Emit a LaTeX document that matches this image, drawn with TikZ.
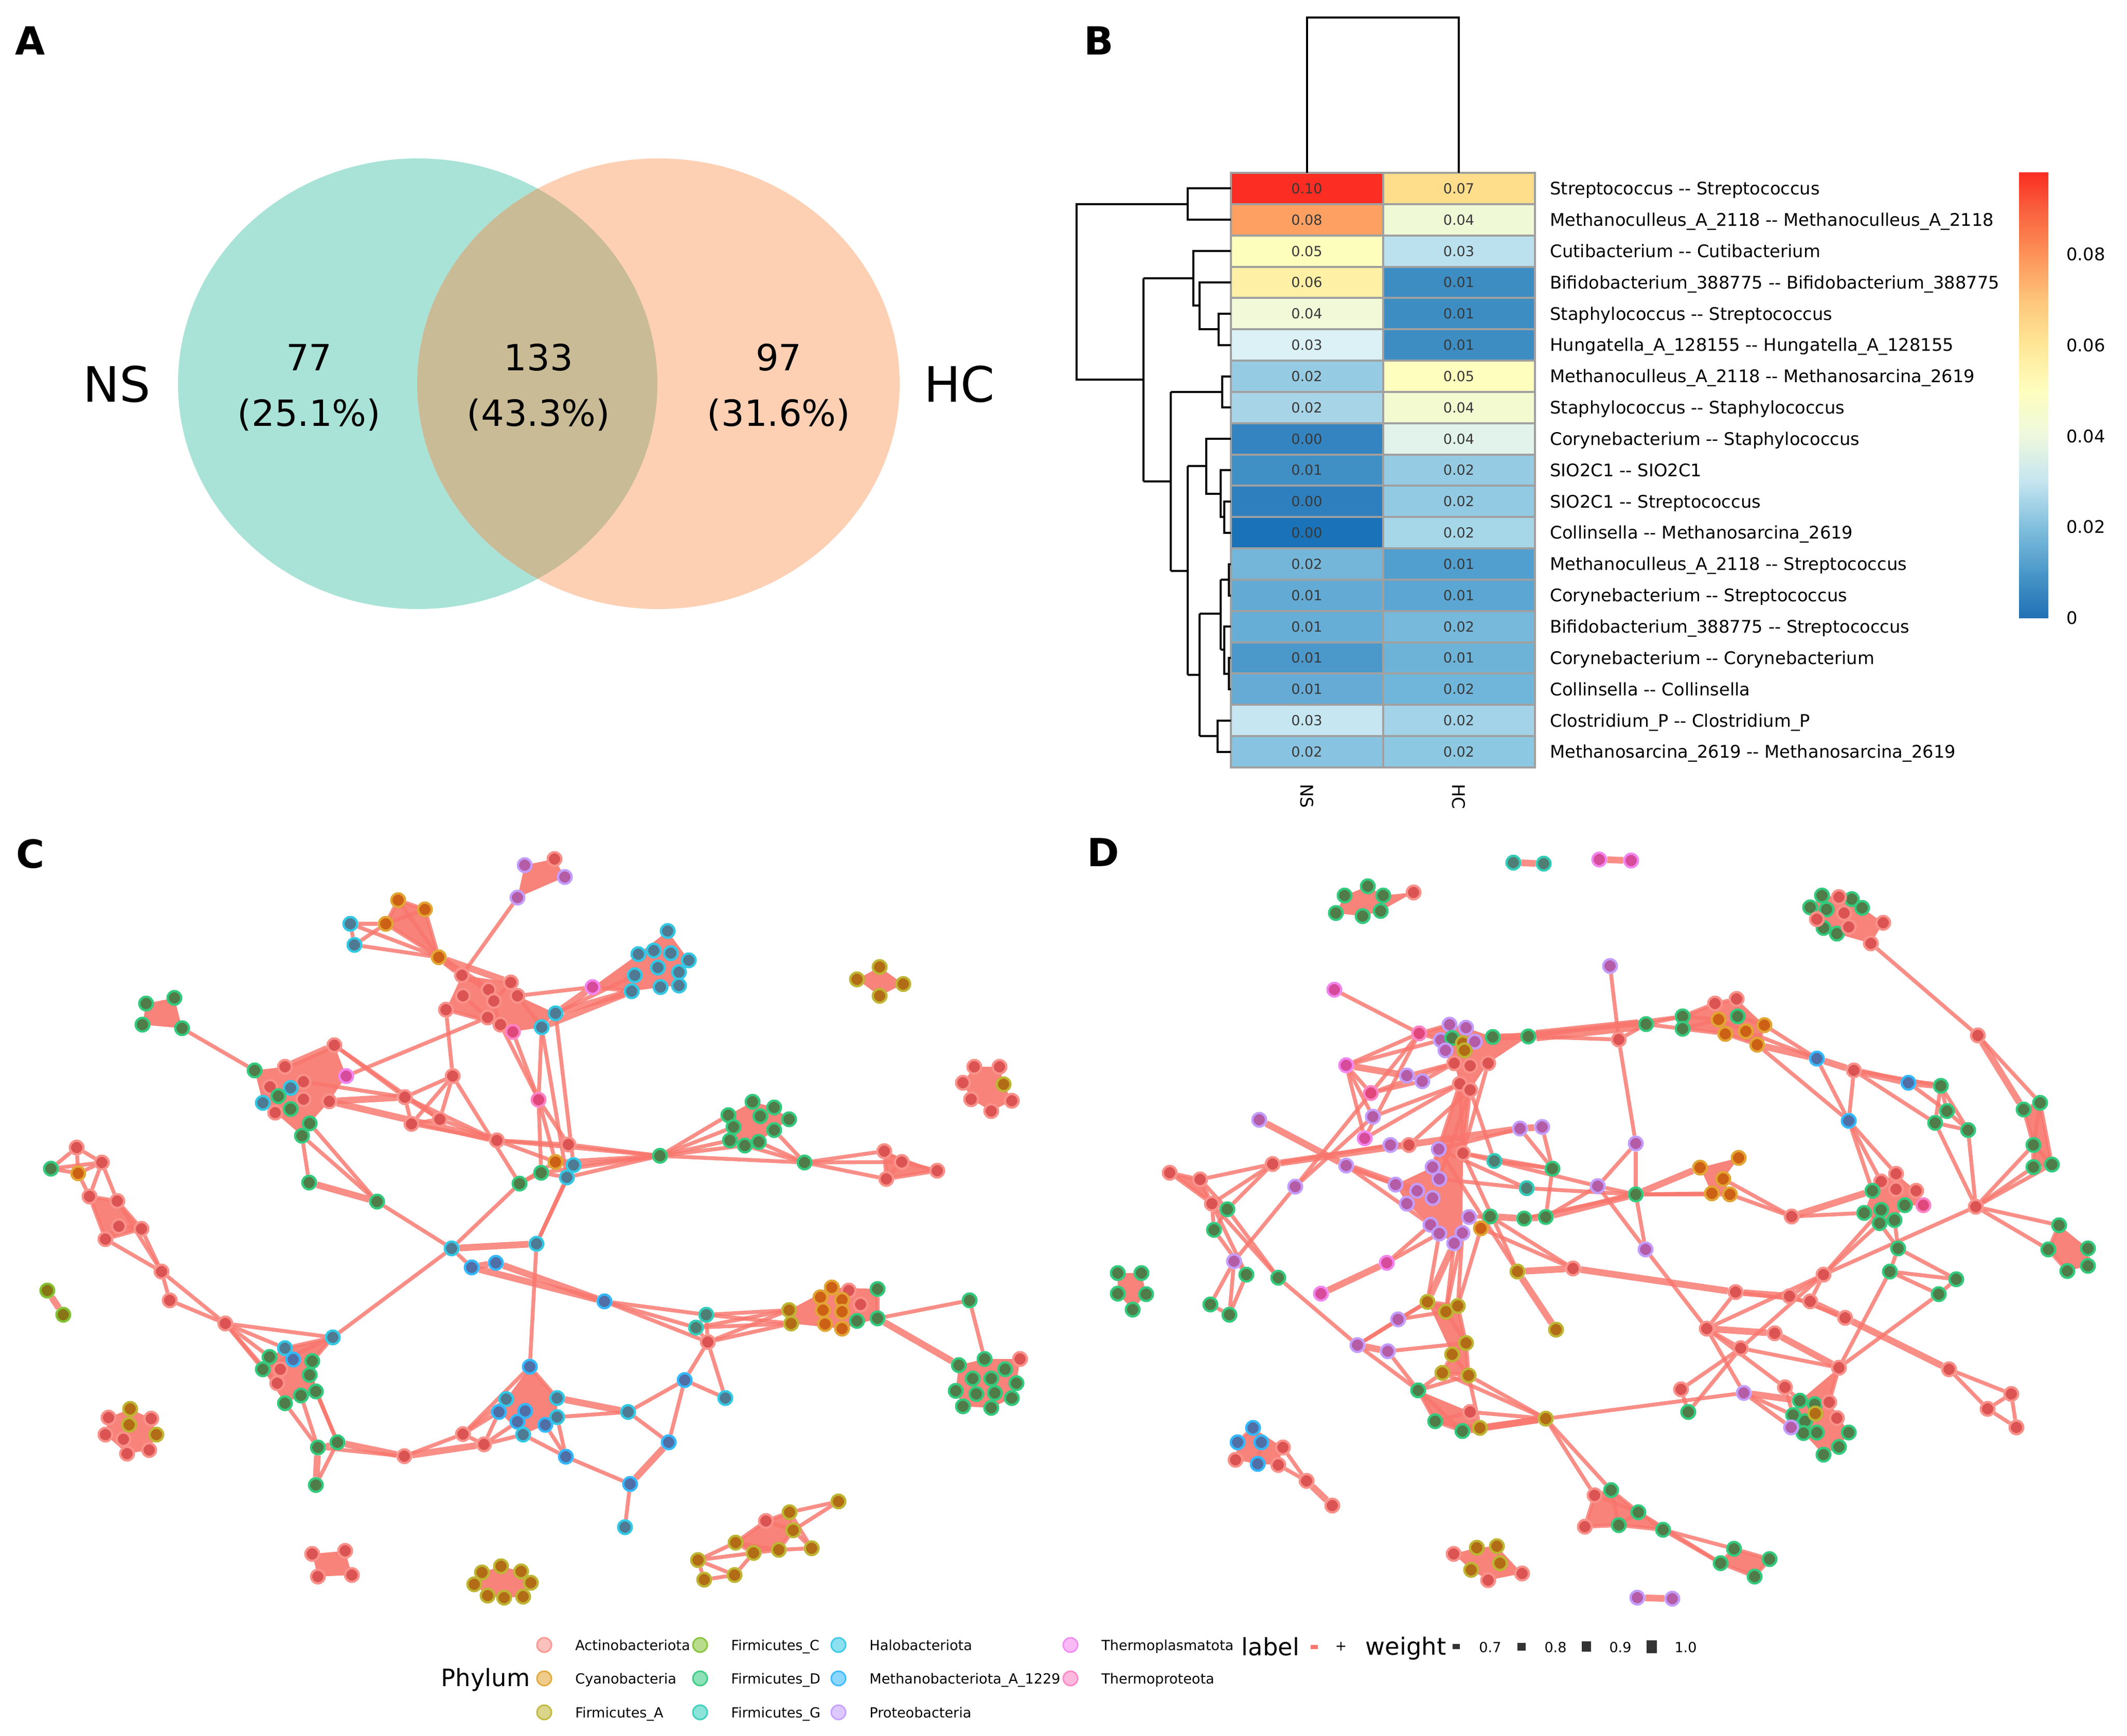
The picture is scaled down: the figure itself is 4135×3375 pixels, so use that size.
\documentclass[tikz,border=0pt]{standalone}
\usepackage{fontspec}
\newfontfamily\dv{DejaVu Sans}
\usetikzlibrary{backgrounds}
\definecolor{act}{HTML}{F8766D}
\definecolor{cya}{HTML}{DB8E00}
\definecolor{fa}{HTML}{AEA200}
\definecolor{fc}{HTML}{64B200}
\definecolor{fd}{HTML}{00BD5C}
\definecolor{fg}{HTML}{00C1A7}
\definecolor{hal}{HTML}{00BADE}
\definecolor{met}{HTML}{00A6FF}
\definecolor{pro}{HTML}{B385FF}
\definecolor{tpl}{HTML}{EF67EB}
\definecolor{tpr}{HTML}{FF63B6}
\definecolor{nb}{HTML}{B82530}
\definecolor{edgec}{HTML}{F8766D}
\definecolor{vl}{HTML}{A9E3D8}
\definecolor{vr}{HTML}{FDD0B4}
\definecolor{vo}{HTML}{C9BB96}
\definecolor{hg}{HTML}{A0A0A0}
\tikzset{
 nd/.style={circle, inner sep=0pt, minimum size=0.265cm, line width=0.045cm, draw=#1!80!white, fill=#1!57!nb},
 ed/.style={draw=edgec, draw opacity=0.82, line width=0.075cm},
 edt/.style={draw=edgec, draw opacity=0.82, line width=0.13cm},
 edv/.style={draw=edgec, draw opacity=0.85, line width=0.22cm},
 cl/.style={fill=edgec, fill opacity=0.9},
 lg/.style={circle, inner sep=0pt, minimum size=0.28cm, line width=0.03cm, draw=#1!75!white, fill=#1!45!white},
 lt/.style={anchor=base west, font=\dv\fontsize{7.7}{9}\selectfont},
 panel/.style={font=\dv\bfseries\fontsize{21.4}{25}\selectfont},
 dend/.style={line width=0.04cm, black},
 hgl/.style={draw=hg, line width=0.04cm},
 lab/.style={anchor=base west, font=\dv\fontsize{9.6}{11}\selectfont},
}
\begin{document}
\begin{tikzpicture}[x=0.01cm,y=-0.01cm]
\useasboundingbox (0,0) rectangle (4135,3375);
\begin{scope}[on background layer]\fill[white] (0,0) rectangle (4135,3375);\end{scope}
% panel letters
\node[panel] (LA) at (59,79) {A};
\node[panel] (LB) at (2136,79) {B};
\node[panel] (LC) at (59,1660) {C};
\node[panel] (LD) at (2145,1657) {D};
% ---------- Venn
\fill[vl] (812,746) ellipse [x radius=466, y radius=438];
\fill[vr] (1280,746) ellipse [x radius=469, y radius=438];
\begin{scope}
\clip (812,746) ellipse [x radius=466, y radius=438];
\fill[vo] (1280,746) ellipse [x radius=469, y radius=438];
\end{scope}
\begin{scope}[every node/.style={anchor=base, font=\dv\fontsize{20}{24}\selectfont}]
\node (n77) at (601,720) {77};
\node (p77) at (601,828) {(25.1\%)};
\node (n133) at (1047,720) {133};
\node (p133) at (1047,828) {(43.3\%)};
\node (n97) at (1514,720) {97};
\node (p97) at (1514,828) {(31.6\%)};
\end{scope}
\node[anchor=base, font=\dv\fontsize{27}{32}\selectfont] (vns) at (227,781) {NS};
\node[anchor=base, font=\dv\fontsize{27}{32}\selectfont] (vhc) at (1865,781) {HC};
% ---------- Heatmap
\foreach \i/\va/\cA/\vb/\cB/\lb in {
1/0.10/FC2D22/0.07/FEDD8B/Streptococcus -- Streptococcus,
2/0.08/FDA062/0.04/F0F9D6/Methanoculleus\_A\_2118 -- Methanoculleus\_A\_2118,
3/0.05/FEFEBC/0.03/BBE1EE/Cutibacterium -- Cutibacterium,
4/0.06/FEF0A5/0.01/3D8DC3/Bifidobacterium\_388775 -- Bifidobacterium\_388775,
5/0.04/F1F9D9/0.01/3D8DC3/Staphylococcus -- Streptococcus,
6/0.03/DBF1F6/0.01/3D8DC3/Hungatella\_A\_128155 -- Hungatella\_A\_128155,
7/0.02/96CCE3/0.05/FEFEBE/Methanoculleus\_A\_2118 -- Methanosarcina\_2619,
8/0.02/A7D5E7/0.04/F3FAD0/Staphylococcus -- Staphylococcus,
9/0.00/3384C0/0.04/E1F3EA/Corynebacterium -- Staphylococcus,
10/0.01/4090C6/0.02/96CCE3/SIO2C1 -- SIO2C1,
11/0.00/2D7FBE/0.02/92CAE3/SIO2C1 -- Streptococcus,
12/0.00/1A73B8/0.02/A6D7E9/Collinsella -- Methanosarcina\_2619,
13/0.02/74B6D9/0.01/519FCF/Methanoculleus\_A\_2118 -- Streptococcus,
14/0.01/63ABD4/0.01/5BA6D2/Corynebacterium -- Streptococcus,
15/0.01/67AED6/0.02/76B9DB/Bifidobacterium\_388775 -- Streptococcus,
16/0.01/4B98CB/0.01/6DB3D8/Corynebacterium -- Corynebacterium,
17/0.01/65ABD5/0.02/70B6DA/Collinsella -- Collinsella,
18/0.03/C6E7F1/0.02/A2D3E8/Clostridium\_P -- Clostridium\_P,
19/0.02/88C4E1/0.02/8DC8E2/Methanosarcina\_2619 -- Methanosarcina\_2619}{
 \pgfmathsetmacro\yt{336+60.84*(\i-1)}
 \pgfmathsetmacro\yb{336+60.84*\i}
 \pgfmathsetmacro\yc{336+60.84*(\i-0.5)}
 \definecolor{hA}{HTML}{\cA}\definecolor{hB}{HTML}{\cB}
 \fill[hA] (2393,\yt) rectangle (2688.5,\yb);
 \fill[hB] (2688.5,\yt) rectangle (2984,\yb);
 \node[anchor=base, font=\dv\fontsize{7.7}{9}\selectfont, text=black!78] (va\i) at (2540.5,\yc+9.9) {\va};
 \node[anchor=base, font=\dv\fontsize{7.7}{9}\selectfont, text=black!78] (vb\i) at (2836,\yc+9.9) {\vb};
 \node[lab] (rl\i) at (3001,\yc+12.3) {\lb};
}
\draw[hgl] (2393,336) rectangle (2984,1492);
\draw[hgl] (2688.5,336) -- (2688.5,1492);
\foreach \i in {1,...,18} \draw[hgl] (2393,{336+60.84*\i}) -- (2984,{336+60.84*\i});
\node[rotate=-90, anchor=west, font=\dv\fontsize{9.6}{11}\selectfont] (cns) at (2540.5,1512) {NS};
\node[rotate=-90, anchor=west, font=\dv\fontsize{9.6}{11}\selectfont] (chc) at (2836,1512) {HC};
% column dendrogram
\draw[dend] (2540.5,336) -- (2540.5,34) -- (2836,34) -- (2836,336);
% row dendrogram
\draw[dend] (2393,366.4) -- (2309,366.4) -- (2309,427.3) -- (2393,427.3);
\draw[dend] (2309,396.9) -- (2093,396.9) -- (2093,738) -- (2223,738);
\draw[dend] (2223,541) -- (2223,936);
\draw[dend] (2223,541) -- (2320,541);
\draw[dend] (2393,488.1) -- (2320,488.1) -- (2320,594) -- (2332,594);
\draw[dend] (2393,549) -- (2332,549) -- (2332,640.2) -- (2369,640.2);
\draw[dend] (2393,609.8) -- (2369,609.8) -- (2369,670.7) -- (2393,670.7);
\draw[dend] (2223,936) -- (2276,936);
\draw[dend] (2276,761.9) -- (2276,1110);
\draw[dend] (2393,731.5) -- (2376,731.5) -- (2376,792.4) -- (2393,792.4);
\draw[dend] (2276,761.9) -- (2376,761.9);
\draw[dend] (2276,1110) -- (2309,1110);
\draw[dend] (2309,906.3) -- (2309,1312);
\draw[dend] (2309,906.3) -- (2345,906.3);
\draw[dend] (2393,853.2) -- (2345,853.2) -- (2345,959.5) -- (2373,959.5);
\draw[dend] (2393,914.1) -- (2373,914.1) -- (2373,1005.4) -- (2380,1005.4);
\draw[dend] (2393,974.9) -- (2380,974.9) -- (2380,1035.8) -- (2393,1035.8);
\draw[dend] (2309,1312) -- (2332,1312);
\draw[dend] (2332,1193) -- (2332,1431.3);
\draw[dend] (2332,1193) -- (2373,1193);
\draw[dend] (2373,1127) -- (2373,1263);
\draw[dend] (2373,1127) -- (2389,1127);
\draw[dend] (2393,1096.6) -- (2389,1096.6) -- (2389,1157.5) -- (2393,1157.5);
\draw[dend] (2373,1263) -- (2380,1263);
\draw[dend] (2393,1218.3) -- (2380,1218.3) -- (2380,1309.6) -- (2389,1309.6);
\draw[dend] (2393,1279.2) -- (2389,1279.2) -- (2389,1340) -- (2393,1340);
\draw[dend] (2332,1431.3) -- (2367,1431.3);
\draw[dend] (2393,1400.9) -- (2367,1400.9) -- (2367,1461.7) -- (2393,1461.7);
% colorbar
\foreach \ya/\yb/\cA/\cB in {1201/1112.7/2070B4/4A98C9,1112.7/1024.4/4A98C9/82BFDD,1024.4/936.1/82BFDD/C5E5F0,936.1/847.8/C5E5F0/EEF8DE,847.8/759.5/EEF8DE/FEFEBE,759.5/671.2/FEFEBE/FEE797,671.2/582.9/FEE797/FDC57A,582.9/494.6/FDC57A/FD9258,494.6/406.3/FD9258/F95F3D,406.3/336/F95F3D/FB2D22}{
 \definecolor{sA}{HTML}{\cA}\definecolor{sB}{HTML}{\cB}
 \shade[bottom color=sA, top color=sB] (3925,\ya+0.6) rectangle (3982,\yb-0.6);
}
\foreach \v/\yy in {0.08/494.6,0.06/671.2,0.04/847.8,0.02/1024.4,0/1201}
 \node[lab] (cb\v) at (4005,\yy+12.3) {\v};
% ---------- Network C nodes
\foreach \nn/\xx/\yy/\col in {
cp1/1020/1682/pro,cp2/1078/1670/act,cp3/1098/1705/pro,cp4/1006/1745/pro,
co1/774/1750/cya,co2/826/1768/cya,co3/750/1796/cya,co4/681/1796/hal,co5/689/1837/hal,co6/853/1861/cya,
cr1/898/1896/act,cr2/993/1910/act,cr3/950/1924/act,cr4/900/1936/act,cr5/1006/1936/act,cr6/960/1946/act,cr7/867/1963/act,cr8/948/1978/act,cr9/973/1992/act,cr10/997/2006/tpr,cr11/1080/1970/hal,cr12/1053/1997/hal,
ch1/1298/1810/hal,ch2/1241/1855/hal,ch3/1271/1848/hal,ch4/1304/1853/hal,ch5/1339/1867/hal,ch6/1279/1881/hal,ch7/1234/1896/hal,ch8/1320/1890/hal,ch9/1228/1927/hal,ch10/1284/1919/hal,ch11/1320/1916/hal,ch12/1152/1919/tpl,
ca1/1710/1880/fa,ca2/1666/1904/fa,ca3/1756/1913/fa,ca4/1710/1936/fa,
cq1/1894/2074/act,cq2/1943/2074/act,cq3/1872/2105/act,cq4/1951/2108/fa,cq5/1888/2137/act,cq6/1967/2140/act,cq7/1927/2160/act,
cg1/284/1951/fd,cg2/339/1940/fd,cg3/277/1992/fd,cg4/354/1999/fd,
cl1/495/2081/fd,cl2/554/2074/act,cl3/650/2032/act,cl4/673/2092/tpl,cl5/590/2103/act,cl6/525/2113/act,cl7/565/2115/hal,cl8/541/2131/fd,cl9/590/2137/act,cl10/511/2144/hal,cl11/565/2156/fd,cl12/640/2141/act,cl13/535/2163/act,cl14/602/2184/fd,cl15/587/2208/fd,
cm1/787/2133/act,cm2/880/2092/act,cm3/800/2185/act,cm4/855/2176/act,cm5/966/2217/act,cm6/1105/2225/act,cm7/1047/2138/tpr,
cx1/1080/2259/cya,cx2/1115/2265/hal,cx3/1052/2280/fd,cx4/1102/2289/hal,cx5/1010/2301/fd,
cgh/1283/2247/fd,
cgr1/1463/2142/fd,cgr2/1505/2153/fd,cgr3/1416/2168/fd,cgr4/1478/2170/fd,cgr5/1534/2176/fd,cgr6/1426/2191/fd,cgr7/1505/2197/fd,cgr8/1419/2217/fd,cgr9/1475/2220/fd,cgr10/1448/2227/fd,
cg5/1564/2260/fd,
ct1/1719/2238/act,ct2/1753/2259/act,ct3/1822/2276/act,ct4/1723/2292/act,
cc1/149/2231/act,cc2/99/2272/fd,cc3/152/2281/cya,cc4/198/2260/act,cc5/174/2326/act,cc6/228/2335/act,cc7/231/2384/act,cc8/275/2389/act,cc9/205/2409/act,cc10/314/2472/act,cc11/330/2528/act,cc12/438/2573/act,
cf1/92/2509/fc,cf2/123/2556/fc,
cgm1/601/2299/fd,cgm2/733/2336/fd,
cb1/878/2427/hal,cb2/1043/2418/hal,cb3/917/2464/met,cb4/964/2455/met,
c2a/647/2600/hal,c2b/554/2621/hal,c2c/524/2638/fd,c2d/570/2643/met,c2e/607/2646/fd,c2f/511/2662/fd,c2g/545/2662/act,c2h/602/2673/fd,c2i/539/2689/act,c2j/614/2705/fd,c2k/585/2713/fd,c2l/554/2728/fd,
cgl1/656/2804/fd,cgl2/618/2814/fd,cgl3/614/2887/fd,
cra/786/2831/act,crb/900/2788/act,crc/941/2808/act,
cbc1/1030/2657/met,cbc2/984/2720/hal,cbc3/1083/2718/hal,cbc4/970/2745/met,cbc5/1021/2743/met,cbc6/1083/2755/hal,cbc7/1006/2764/met,cbc8/1060/2770/met,cbc9/1017/2789/hal,cbc10/1100/2832/met,
cbh/1221/2745/hal,cbm/1331/2683/met,cbp/1300/2804/met,cbk/1225/2885/met,cbz/1215/2969/hal,cbq/1410/2718/hal,cbx/1175/2530/met,
cga/1373/2556/fg,cgb/1353/2581/fg,crt/1376/2609/act,
coa/1534/2547/fa,cob/1538/2573/fa,coc/1617/2503/cya,cod/1595/2522/cya,coe/1650/2509/act,cof/1637/2527/cya,cog/1673/2536/act,coh/1600/2547/cya,coi/1637/2550/cya,coj/1604/2574/cya,cok/1637/2583/cya,col/1706/2506/fd,com/1706/2563/fd,con/1666/2568/fd,
cgx/1885/2528/fd,
cgq1/1864/2654/fd,cgq2/1914/2642/fd,cgq3/1954/2662/fd,cgq4/1891/2680/fd,cgq5/1927/2680/fd,cgq6/1976/2689/fd,cgq7/1858/2704/fd,cgq8/1898/2710/fd,cgq9/1934/2708/fd,cgq10/1967/2718/fd,cgq11/1872/2734/fd,cgq12/1927/2737/fd,cgq13/1983/2642/act,
chx1/253/2739/fa,chx2/211/2756/act,chx3/294/2758/act,chx4/251/2770/fa,chx5/304/2789/fa,chx6/205/2789/act,chx7/240/2798/act,chx8/290/2819/act,chx9/247/2826/act,
csq1/607/3021/act,csq2/671/3015/act,csq3/618/3065/act,csq4/684/3062/act,
cor1/974/3045/fa,cor2/937/3057/fa,cor3/1013/3055/fa,cor4/922/3080/fa,cor5/1032/3077/fa,cor6/948/3102/fa,cor7/980/3106/fa,cor8/1017/3104/fa,
cz1/1630/2919/fa,cz2/1535/2940/fa,cz3/1489/2957/act,cz4/1542/2975/fa,cz5/1430/2999/fa,cz6/1578/3010/fa,cz7/1465/3019/fa,cz8/1514/3013/fa,cz9/1357/3033/fa,cz10/1428/3062/fa,cz11/1369/3071/fa}
 \node[nd=\col] (\nn) at (\xx,\yy) {};
% ---------- Network D nodes
\foreach \nn/\xx/\yy/\col in {
dt1/2942/1677/fg,dt2/3001/1679/fg,dm1/3109/1671/tpl,dm2/3171/1673/tpl,
dga1/2659/1723/fd,dga2/2614/1741/fd,dga3/2689/1741/fd,dga4/2597/1775/fd,dga5/2649/1781/fd,dga6/2684/1771/fd,dga7/2748/1735/act,
dgb1/3542/1741/fd,dgb2/3600/1748/fd,dgb3/3519/1764/fd,dgb4/3551/1768/fd,dgb5/3620/1765/fd,dgb6/3545/1804/fd,dgb7/3571/1815/fd,drb1/3575/1744/act,drb2/3532/1787/act,drb3/3585/1775/act,drb4/3594/1802/act,drb5/3661/1794/act,drb6/3637/1834/act,
dp0/3130/1878/pro,dr2/3147/2021/act,dm3/2594/1924/tpl,dk1/2759/2009/tpr,
dc1/2818/1992/pro,dc2/2850/1998/pro,dc3/2801/2022/pro,dc4/2823/2018/fd,dc5/2844/2028/fa,dc6/2867/2025/pro,dc7/2810/2042/pro,dc8/2847/2042/fa,dc9/2902/2016/fd,dc10/2971/2015/fd,dc11/2827/2067/act,dc12/2858/2072/act,dc13/2893/2067/act,dc14/2838/2107/act,dc15/2858/2119/act,
dh1/3200/1991/fd,dh2/3271/1976/fd,dh3/3271/2000/fd,dr3/3334/1951/act,dr4/3376/1942/act,do1/3341/1982/cya,do2/3354/2010/cya,do3/3394/2005/cya,do4/3416/2031/cya,dh4/3378/1976/fd,do5/3430/1993/cya,
db1/3532/2058/met,dr5/3604/2081/act,db2/3710/2105/met,dg1/3773/2111/fd,dg2/3785/2160/fd,dg3/3762/2183/fd,dg4/3826/2197/fd,db3/3594/2179/met,
dr1/3845/2013/act,dg5/3934/2157/fd,dg6/3966/2144/fd,dg7/3953/2226/fd,dg8/3953/2269/fd,dg9/3989/2264/fd,dr6/3841/2346/act,dg10/4003/2382/fd,dg11/3982/2429/fd,dg12/4059/2427/fd,dg13/4019/2471/fd,dg14/4059/2461/fd,
drc1/3686/2282/act,drc2/3657/2297/act,drc3/3725/2315/act,drc4/3686/2312/act,dgc1/3640/2315/fd,dgc2/3703/2343/fd,dgc3/3624/2358/fd,dgc4/3657/2352/fd,dgc5/3683/2372/fd,dgc6/3654/2378/fd,dkc/3739/2343/tpr,
dg15/3690/2427/fd,dg16/3674/2472/fd,dg17/3803/2487/fd,
do6/3305/2270/cya,do7/3380/2251/cya,do8/3350/2292/cya,do9/3328/2320/cya,do10/3363/2322/cya,dg18/3180/2322/fd,drx/3483/2365/act,
dp1/3180/2223/pro,dp2/3106/2306/pro,dp3/3199/2429/pro,
dt3/2905/2257/fg,dt4/2968/2310/fg,dg19/3018/2272/fd,dpa/2955/2194/pro,dpb/2998/2191/pro,
dk2/2617/2071/tpl,dk3/2665/2125/tpr,dk4/2653/2213/tpl,
dp4/2735/2091/pro,dp5/2765/2102/pro,dp6/2669/2171/pro,dp7/2448/2177/pro,dp8/2703/2226/pro,dr7/2739/2226/act,dp9/2797/2234/pro,dr8/2844/2242/act,dp10/2617/2266/pro,dr9/2474/2263/act,dr10/2274/2280/act,dr11/2333/2293/act,dp11/2518/2307/pro,dr12/2356/2340/act,dg20/2386/2351/fd,dg21/2360/2391/fd,
dp12/2785/2269/pro,dp13/2798/2292/pro,dp14/2713/2303/pro,dp15/2755/2315/pro,dp16/2735/2340/pro,dp17/2785/2329/pro,
dg22/2897/2365/fd,dg23/2963/2369/fd,dg24/3005/2366/fd,dp18/2856/2366/pro,do11/2879/2388/cya,dp19/2781/2381/pro,dp20/2798/2398/pro,dp21/2843/2397/pro,dp22/2827/2417/pro,
dk5/2696/2455/tpl,da1/2950/2472/fa,dr13/3058/2466/act,dp23/2399/2452/pro,dg25/2423/2478/fd,dg26/2485/2484/fd,
dgp1/2173/2475/fd,dgp2/2219/2475/fd,dgp3/2173/2515/fd,dgp4/2228/2516/fd,dgp5/2202/2546/fd,
dg27/2353/2536/fd,dg28/2390/2556/fd,dk6/2568/2515/tpl,
dp24/2639/2615/pro,dp25/2698/2627/pro,dp26/2718/2565/pro,
da2/2775/2531/fa,da3/2811/2550/fa,da4/2834/2539/fa,da5/2850/2611/fa,da6/2823/2633/fa,da7/2804/2669/fa,da8/2855/2674/fa,
dg29/2757/2703/fd,dg30/2790/2763/fd,dg31/2843/2782/fd,da9/2877/2776/fa,dr14/2858/2745/act,da10/3005/2758/fa,da11/3025/2585/fa,
dp27/3390/2708/pro,dg32/3282/2745/fd,dr15/3268/2701/act,
drm1/3374/2512/act,drm2/3318/2583/act,dr16/3479/2520/act,dr17/3519/2530/act,dr18/3545/2478/act,dr19/3587/2562/act,dr20/3450/2592/act,dr21/3384/2621/act,dr22/3575/2659/act,dr23/3470/2697/act,
dgq1/3499/2723/fd,dgq2/3528/2730/fd,dgq3/3486/2751/fd,dgq4/3509/2763/fd,dgq5/3506/2786/fd,dgq6/3532/2785/fd,dgq7/3594/2785/fd,dgq8/3575/2813/fd,dgq9/3545/2828/fd,daq/3529/2748/fa,drq1/3556/2726/act,drq2/3571/2757/act,dpq/3482/2775/pro,
dg33/3769/2516/fd,dr24/3789/2662/act,dr25/3910/2710/act,dr26/3864/2739/act,dr27/3920/2775/act,
dbl1/2436/2776/met,dbl2/2406/2804/met,dbl3/2452/2804/met,dbl4/2445/2846/met,drl1/2494/2814/act,drl2/2402/2838/act,drl3/2485/2848/act,drl4/2540/2879/act,drl5/2590/2927/act,
drc5/3100/2907/act,dgc7/3132/2897/fd,dgc8/3185/2940/fd,drc6/3081/2968/act,dgc9/3147/2965/fd,dgc10/3233/2974/fd,dgc11/3371/3011/fd,dgc12/3345/3039/fd,dgc13/3440/3031/fd,dgc14/3411/3065/fd,
drb7/2826/3021/act,dab1/2871/3009/fa,dab2/2910/3006/fa,dab3/2916/3039/fa,dab4/2860/3052/fa,drb8/2959/3059/act,drb9/2893/3072/act,
dpp1/3183/3106/pro,dpp2/3251/3108/pro}
 \node[nd=\col] (\nn) at (\xx,\yy) {};
% ---------- edges and cluster fills (behind nodes)
\begin{scope}[on background layer]
% C fills
\fill[cl] (cp1.center)--(cp2.center)--(cp3.center)--(cp4.center)--cycle;
\fill[cl] (co1.center)--(co2.center)--(co6.center)--(co3.center)--cycle;
\fill[cl] (cr1.center)--(cr2.center)--(cr5.center)--(cr11.center)--(cr12.center)--(cr10.center)--(cr9.center)--(cr7.center)--cycle;
\fill[cl] (ch1.center)--(ch5.center)--(ch11.center)--(ch10.center)--(ch9.center)--(ch12.center)--(ch2.center)--cycle;
\fill[cl] (ca1.center)--(ca3.center)--(ca4.center)--(ca2.center)--cycle;
\fill[cl] (cq1.center)--(cq2.center)--(cq4.center)--(cq6.center)--(cq7.center)--(cq5.center)--(cq3.center)--cycle;
\fill[cl] (cg1.center)--(cg2.center)--(cg4.center)--(cg3.center)--cycle;
\fill[cl] (cl1.center)--(cl2.center)--(cl3.center)--(cl4.center)--(cl12.center)--(cl14.center)--(cl15.center)--(cl13.center)--(cl10.center)--cycle;
\fill[cl] (cgr1.center)--(cgr2.center)--(cgr5.center)--(cgr7.center)--(cgr9.center)--(cgr10.center)--(cgr8.center)--(cgr3.center)--cycle;
\fill[cl] (ct1.center)--(ct3.center)--(ct4.center)--cycle;
\fill[cl] (cc5.center)--(cc6.center)--(cc8.center)--(cc9.center)--cycle;
\fill[cl] (c2b.center)--(c2a.center)--(c2e.center)--(c2j.center)--(c2k.center)--(c2l.center)--(c2f.center)--(c2c.center)--cycle;
\fill[cl] (cbc1.center)--(cbc3.center)--(cbc6.center)--(cbc8.center)--(cbc9.center)--(cbc4.center)--(cbc2.center)--cycle;
\fill[cl] (coa.center)--(coc.center)--(col.center)--(com.center)--(cok.center)--(cob.center)--cycle;
\fill[cl] (cgq1.center)--(cgq2.center)--(cgq13.center)--(cgq6.center)--(cgq10.center)--(cgq12.center)--(cgq11.center)--(cgq7.center)--cycle;
\fill[cl] (chx1.center)--(chx3.center)--(chx5.center)--(chx8.center)--(chx9.center)--(chx6.center)--(chx2.center)--cycle;
\fill[cl] (csq1.center)--(csq2.center)--(csq4.center)--(csq3.center)--cycle;
\fill[cl] (cor1.center)--(cor3.center)--(cor5.center)--(cor8.center)--(cor7.center)--(cor6.center)--(cor4.center)--(cor2.center)--cycle;
\fill[cl] (cz3.center)--(cz2.center)--(cz4.center)--(cz8.center)--(cz7.center)--(cz5.center)--cycle;
% D fills
\fill[cl] (dga1.center)--(dga3.center)--(dga7.center)--(dga6.center)--(dga5.center)--(dga4.center)--(dga2.center)--cycle;
\fill[cl] (dgb1.center)--(drb1.center)--(dgb2.center)--(dgb5.center)--(drb5.center)--(drb6.center)--(dgb7.center)--(dgb6.center)--(drb2.center)--(dgb3.center)--cycle;
\fill[cl] (dk1.center)--(dc1.center)--(dc2.center)--(dc9.center)--(dc10.center)--(dc13.center)--(dc15.center)--(dc14.center)--(dc11.center)--(dc3.center)--cycle;
\fill[cl] (dc14.center)--(dc15.center)--(dr8.center)--(dp21.center)--(dp22.center)--(dp20.center)--(dp19.center)--(dp16.center)--(dp14.center)--(dp12.center)--(dp9.center)--cycle;
\fill[cl] (dh2.center)--(dr3.center)--(dr4.center)--(do5.center)--(do4.center)--(do2.center)--(dh3.center)--cycle;
\fill[cl] (dg10.center)--(dg12.center)--(dg14.center)--(dg13.center)--(dg11.center)--cycle;
\fill[cl] (drc1.center)--(drc3.center)--(dkc.center)--(dgc2.center)--(dgc5.center)--(dgc6.center)--(dgc3.center)--(dgc1.center)--(drc2.center)--cycle;
\fill[cl] (do6.center)--(do7.center)--(do8.center)--(do10.center)--(do9.center)--cycle;
\fill[cl] (dgp1.center)--(dgp2.center)--(dgp4.center)--(dgp5.center)--(dgp3.center)--cycle;
\fill[cl] (dr22.center)--(drq1.center)--(dgq7.center)--(dgq8.center)--(dgq9.center)--(dgq5.center)--(dpq.center)--(dgq3.center)--(dgq1.center)--cycle;
\fill[cl] (dbl1.center)--(drl1.center)--(drl3.center)--(dbl4.center)--(drl2.center)--(dbl2.center)--cycle;
\fill[cl] (drc5.center)--(dgc7.center)--(dgc8.center)--(dgc10.center)--(dgc9.center)--(drc6.center)--cycle;
\fill[cl] (dgc11.center)--(dgc13.center)--(dgc14.center)--(dgc12.center)--cycle;
\fill[cl] (drb7.center)--(dab1.center)--(dab2.center)--(drb8.center)--(drb9.center)--(dab4.center)--cycle;
\fill[cl] (dr10.center)--(dr11.center)--(dr12.center)--cycle;
\fill[cl] (dg29.center)--(dr14.center)--(da9.center)--(dg31.center)--(dg30.center)--cycle;
\fill[cl] (da2.center)--(da4.center)--(da5.center)--(da8.center)--(da7.center)--(da6.center)--cycle;
\fill[cl] (dg5.center)--(dg6.center)--(dg9.center)--(dg8.center)--(dg7.center)--cycle;
% C edges
\foreach \a/\b in {cp4/cr1,co1/co2,co1/co3,co2/co3,co1/co6,co2/co6,co3/co6,co3/co4,co4/co5,co3/co5,co4/co6,co5/co6,
cr1/cr3,cr2/cr6,cr4/cr8,cr7/cr9,cr3/cr9,cr5/cr12,ch12/cr5,ch7/cr11,ch12/ch9,
cr7/cm2,cr10/cm7,cr12/cm7,cr9/cm7,cr11/cx2,cr12/cx4,
cg4/cl1,cl4/cr8,cl3/cm1,cl3/cm4,cl5/cm1,
cm1/cm2,cm1/cm3,cm2/cm3,cm2/cm4,cm1/cm4,cm3/cm4,cm2/cx5,cm1/cm5,cm4/cm5,cm3/cm5,cm5/cm6,cm5/cgh,cm6/cgh,cm7/cx1,cm7/cx3,cm7/cm6,cm5/cx1,
cx1/cgh,cx2/cgh,cx4/cgh,cx3/cgh,cx5/cx3,cx5/cx1,cx4/cx3,cx1/cx2,cx5/cb1,cx4/cb2,cx2/cb2,
cgh/cgr3,cgh/cgr6,cgh/cgr8,cgh/cgr10,cgh/cg5,cgr10/cg5,cgr9/cg5,cgr7/cg5,
cg5/ct1,cg5/ct2,cg5/ct4,ct1/ct2,ct2/ct3,ct1/ct4,ct2/ct4,ct3/ct4,
cc1/cc2,cc1/cc4,cc2/cc3,cc3/cc4,cc2/cc4,cc1/cc3,cc4/cc5,cc3/cc5,cc4/cc6,cc5/cc6,cc5/cc9,cc6/cc8,cc7/cc8,cc7/cc9,cc8/cc9,cc9/cc10,cc8/cc10,cc6/cc10,cc10/cc11,cc10/cc12,cc11/cc12,
cl15/cgm1,cl14/cgm2,cl15/cgm2,cgm2/cb1,
cb1/c2a,cb2/cbc1,cb1/cb3,
cc12/c2b,cc12/c2c,cc12/c2f,cc12/c2a,cc12/c2i,c2a/c2b,c2a/c2e,c2a/c2f,
c2j/cgl1,c2k/cgl2,c2l/cgl2,c2h/cgl1,cgl1/cgl3,cgl1/cgl2,
cgl2/cra,cra/crb,crb/crc,
crb/cbc2,crb/cbc4,crc/cbc4,crc/cbc7,crc/cbc9,cbc1/crb,cbc1/cbc3,cbc6/cbh,cbc6/cbc10,cbc9/cbc10,cbc10/cbk,cbc8/cbc10,
cbh/cbm,cbh/cbp,cbm/cbq,cbm/cbp,cbm/crt,cbk/cbz,
cbx/cga,cbx/cgb,cbx/crt,cga/cgb,cgb/crt,cga/crt,
cga/coa,cga/cob,cgb/coa,cgb/cob,crt/coa,crt/cob,crt/cbq,
col/com,com/cgx,cgx/cgq2,
cz1/cz2,cz1/cz4,cz2/cz3,cz2/cz4,cz3/cz4,cz3/cz5,cz4/cz6,cz4/cz8,cz5/cz7,cz5/cz9,cz7/cz8,cz7/cz9,cz8/cz6,cz9/cz10,cz9/cz11,cz10/cz11,cz7/cz10,cz5/cz8,cz2/cz6}
 \draw[ed] (\a) -- (\b);
\foreach \a/\b in {co6/cr1,co6/cr3,co6/cr2,ch12/cr11,ch9/cr11,ch9/cr12,cl12/cm1,cl12/cm5,cf1/cf2,cgm1/cgm2,cb1/cb2,cb3/cb4,cb3/cbx,cb4/cbx,cgl2/cgl3,cgl1/cra,cra/crc,cbc3/cbh,cbp/cbk,com/cgq1,cl3/cl2}
 \draw[edt] (\a) -- (\b);
% D edges
\foreach \a/\b in {drb6/dr1,dp0/dr2,dm3/dk1,
dk1/dc1,dk1/dc3,dk2/dk1,dk2/dc3,dk2/dk3,dk2/dp6,dk2/dk4,dp4/dc11,dp5/dc11,dp4/dp5,dk3/dc11,dk3/dp5,dp6/dc14,dk4/dc14,dk1/dk4,dk1/dk3,
dc15/dr7,dc15/dr8,dc14/dr8,dc15/dp13,dc14/dp12,dc13/dr8,
dp10/dp14,dp10/dp19,dr9/dp8,dr7/dp8,
dr10/dr11,dr11/dr9,dr10/dr12,dr11/dr12,dr12/dg20,dr12/dg21,dr11/dg20,dg20/dg21,dr9/dr12,dr9/dg20,
dp11/dp23,dp11/dk3,dp11/dp6,
dr12/dg25,dr12/dg26,dg21/dg25,dg20/dg26,
dp23/dg27,dp23/dg28,dg25/dg28,dg27/dg28,dg26/dp24,
dk5/dp19,dk5/dp20,
dp24/dp26,dp24/da2,dp25/da5,dp26/da2,dp26/da3,dp24/dg29,dg29/dp25,
da2/da3,da2/da4,da3/da4,da3/da5,da4/da5,da5/da6,da5/da8,da6/da7,da6/da8,da7/da8,da7/dg29,da8/dg29,da7/da10,da8/da10,da8/da9,dg29/dg30,dg29/dg31,dg30/dg31,dg30/da9,dg31/da9,dr14/da9,dr14/dg30,dr14/da10,
da10/dp27,da10/dgc7,da10/drc5,
da3/dp22,da4/do11,da2/dp20,da4/dp21,da3/dp21,
da1/dr8,da1/dp9,dr13/do11,dr13/dg22,
do11/dg22,dg22/dp18,dp18/do11,dg23/dg18,dg24/dp2,
dg19/dg24,dg19/dpb,dg19/dpa,dt3/dc15,dt3/dg19,dt3/dp2,dt4/dg18,dp13/dt4,dr8/dg19,dr8/dt3,dp9/dt4,
dp1/dp2,dp1/dg18,dp2/dg18,dp2/dp3,dp3/dg18,dp3/drm2,dr2/dp1,
dg18/do9,dg18/do10,
do10/drx,do8/drx,drx/dgc3,
dc10/dh2,dc9/dh1,dh1/dh2,dh1/dh3,dr2/dc10,dr2/dh1,
dh2/dr3,dh2/do1,dh3/do1,dh3/do2,dr3/dr4,dr4/dh4,dh4/do5,do1/do3,do3/do4,do2/do4,do5/do4,dh4/do3,
do5/db1,do3/db1,do4/db3,db1/db3,dr5/db3,
dr5/dg1,dg1/dg2,dg1/dg3,dg2/dg4,dg3/dg4,dg2/dg3,dr5/dg3,dg1/dg4,db2/dg2,
dr1/dg6,dg5/dg6,dg5/dg7,dg6/dg7,dg7/dg8,dg7/dg9,dg8/dg9,dg8/dr6,dg9/dr6,dg6/dg9,dr6/dg10,dr6/dg11,dg10/dg11,dg11/dg13,dg12/dg14,
dr6/dg3,dr6/dg4,dr6/dr18,dr6/dg7,
db3/drc2,db3/dgc1,db3/drc1,
dgc5/dg15,dgc6/dg15,dg15/dg16,dg15/dg17,dg16/dg17,dg16/dg33,dg17/dg33,dr18/dgc6,dr18/dgc4,dr22/dg16,dg33/dr22,
drm1/dr17,dr16/dr18,dr17/dr18,dr16/dr19,dr18/dr21,dr18/drm2,
drm2/dr21,drm2/drm1,drm2/dr23,drm2/dp27,
dr21/dr22,dr21/dr15,dr21/dg32,dr15/dg32,
dr22/drq1,dr23/dgq1,dr23/dgq3,dp27/dgq3,dp27/dpq,
dr24/dr25,dr24/dr26,dr25/dr26,dr25/dr27,dr26/dr27,
drc5/dgc7,drc5/dgc8,drc5/drc6,dgc7/dgc8,dgc7/dgc9,drc6/dgc9,dgc8/dgc9,dgc8/dgc10,dgc9/dgc10,dgc10/dgc11,dgc10/dgc12,dgc8/dgc12,dgc11/dgc12,dgc11/dgc13,dgc12/dgc14,dgc13/dgc14,
dbl1/dbl2,dbl1/dbl3,dbl3/dbl4,drl1/drl4,drl3/drl4,dp9/dpa}
 \draw[ed] (\a) -- (\b);
\foreach \a/\b in {dt1/dt2,dm1/dm2,dk2/dp4,dp7/dp10,dp10/dp15,dr9/dpa,dk6/dk5,dp24/dp25,da9/da10,dg31/da10,da2/dp22,dr13/da1,dr13/drm1,da1/da11,dg22/dg23,dg23/dg24,dg24/dg18,dpa/dpb,dg18/do6,drx/dgc1,dc9/dc10,do4/db1,db1/dr5,dr5/db2,db2/dg1,dr1/dg5,drm1/dr16,dr17/dr19,drm2/dr20,dr20/dr22,dp27/dgq1,dr19/dr24,drl4/drl5,dpp1/dpp2}
 \draw[edt] (\a) -- (\b);
\draw[edv] (dc10) -- (dh1);
\end{scope}
% ---------- Legend
\node[anchor=base, font=\dv\fontsize{13.2}{15}\selectfont] (phy) at (944,3278) {Phylum};
\foreach \nn/\xx/\yy/\col/\txt in {
lg1/1058/3198/act/Actinobacteriota,lg2/1058/3263/cya/Cyanobacteria,lg3/1058/3329/fa/Firmicutes\_A,
lg4/1361/3198/fc/Firmicutes\_C,lg5/1361/3263/fd/Firmicutes\_D,lg6/1361/3329/fg/Firmicutes\_G,
lg7/1630/3198/hal/Halobacteriota,lg8/1630/3263/met/Methanobacteriota\_A\_1229,lg9/1630/3329/pro/Proteobacteria,
lg10/2081/3198/tpl/Thermoplasmatota,lg11/2081/3263/tpr/Thermoproteota}{
 \node[lg=\col] (\nn) at (\xx,\yy) {};
 \node[lt] (\nn t) at (\xx+48,\yy+10.6) {\txt};
}
\node[anchor=base, font=\dv\fontsize{13.2}{15}\selectfont] (lbl) at (2470,3218) {label};
\fill[edgec] (2548,3198) rectangle (2562,3206);
\node[font=\dv\fontsize{7.7}{9}\selectfont] (plus) at (2607,3201) {+};
\node[anchor=base, font=\dv\fontsize{13.2}{15}\selectfont] (wgt) at (2733,3217) {weight};
\foreach \xx/\hh/\ww/\txt in {2831/10/14/0.7,2958/15/16/0.8,3084/20/18/0.9,3211/25/20/1.0}{
 \fill[black!80] (\xx-\ww/2,3201-\hh/2) rectangle (\xx+\ww/2,3201+\hh/2);
 \node[anchor=base, font=\dv\fontsize{7.7}{9}\selectfont] (w\txt) at (\xx+66,3212) {\txt};
}
\end{tikzpicture}
\end{document}
